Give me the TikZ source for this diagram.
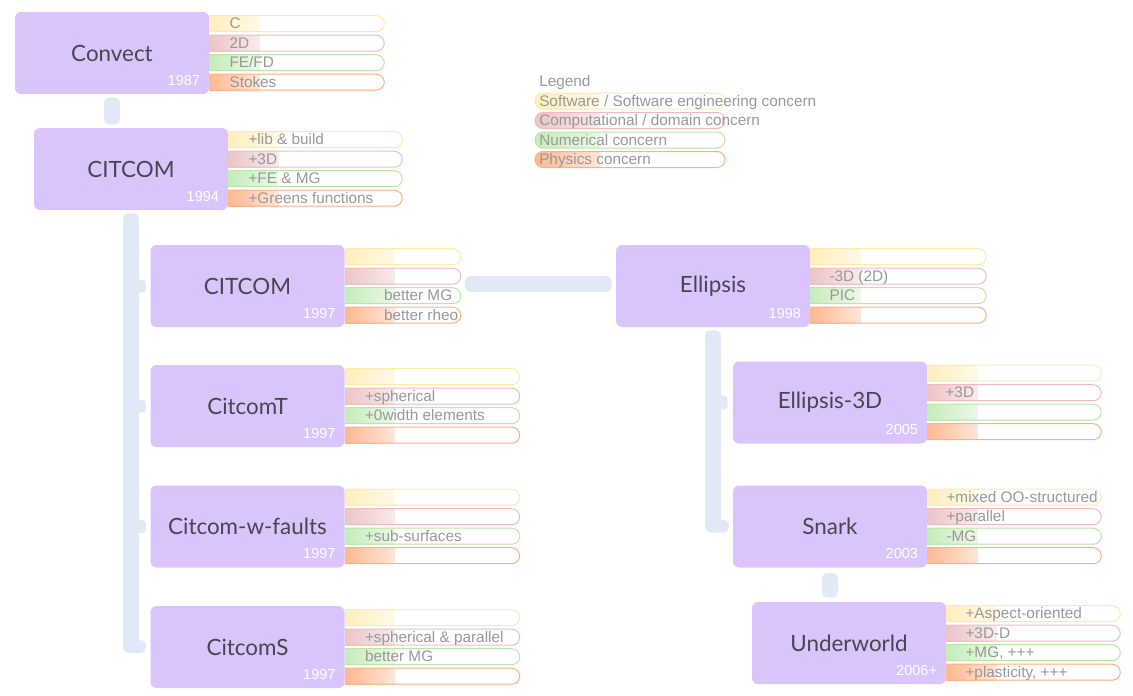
\documentclass[tikz,border=0pt]{standalone}
\usepackage{fontspec}
\setmainfont{Liberation Sans}
\newfontfamily\titlefont{Lato}
\usetikzlibrary{positioning}
\usetikzlibrary{calc}
\definecolor{boxlav}{RGB}{217,196,252}
\definecolor{linkblue}{RGB}{226,233,246}
\definecolor{txtgray}{RGB}{152,152,152}
\definecolor{titlegray}{RGB}{76,68,80}
\definecolor{swyel}{RGB}{255,238,188}
\definecolor{cdred}{RGB}{236,196,198}
\definecolor{nugrn}{RGB}{198,236,186}
\definecolor{phorg}{RGB}{255,184,144}
\definecolor{swyelb}{RGB}{255,232,172}
\definecolor{cdredb}{RGB}{240,186,190}
\definecolor{nugrnb}{RGB}{188,228,170}
\definecolor{phorgb}{RGB}{255,174,128}
\tikzset{
  lineage/.style={fill=boxlav, rounded corners=4.5pt, minimum width=145.5pt,
    minimum height=61.5pt, inner sep=0pt, text=titlegray,
    font=\titlefont\fontsize{16.8}{20}\selectfont},
  yearlbl/.style={anchor=base east, inner sep=0pt, text=white,
    font=\fontsize{10.9}{12}\selectfont},
  concern/.style={anchor=base west, inner sep=0pt, text=txtgray,
    font=\fontsize{11.5}{13}\selectfont},
  link/.style={fill=linkblue, rounded corners=4pt}
}
% four concern bars to the right of a box: box, length, text start, texts
\newcommand{\concerns}[7]{%
  \begin{scope}[shift={(#1.north east)}]
    \foreach \r/\fc/\bc/\tag/\txt in {0/swyel/swyelb/sw/{#4},1/cdred/cdredb/cd/{#5},
        2/nugrn/nugrnb/nu/{#6},3/phorg/phorgb/ph/{#7}}{
      \pgfmathsetmacro{\yt}{4+19.5*\r}
      \shade[left color=\fc, right color=\fc!35] (0,\yt) rectangle (50,\yt+16);
      \draw[\bc, line width=0.75pt] (0,\yt) -- (#2-8,\yt) arc(-90:90:8) -- (0,\yt+16);
      \node[concern] (#1-\tag) at (#3,\yt+12.8) {\txt};
    }
  \end{scope}}

\begin{document}
\begin{tikzpicture}[x=0.75pt, y=-0.75pt]
  \useasboundingbox (0,0) rectangle (1133,696);

  % boxes
  \node[lineage] (convect) at (112,53) {Convect};
  \node[lineage] (citcom) at (131,169) {CITCOM};
  \node[lineage] (cit97) at (247.5,286) {CITCOM};
  \node[lineage] (citcomT) at (247.5,406) {CitcomT};
  \node[lineage] (citfault) at (247.5,526.5) {Citcom-w-faults};
  \node[lineage] (citcomS) at (247.5,647) {CitcomS};
  \node[lineage] (ellipsis) at (713,286) {Ellipsis};
  \node[lineage] (ell3d) at (830,402.5) {Ellipsis-3D};
  \node[lineage] (snark) at (830,526.5) {Snark};
  \node[lineage] (underworld) at (849,643) {Underworld};

  % years
  \foreach \b/\yr in {convect/1987, citcom/1994, cit97/1997, citcomT/1997,
      citfault/1997, citcomS/1997, ellipsis/1998, ell3d/2005, snark/2003,
      underworld/2006+}
    \node[yearlbl] (\b-yr) at ($(\b.south east)+(-9,-9)$) {\yr};

  % concerns
  \concerns{convect}{175}{20}{C}{2D}{FE/FD}{Stokes}
  \concerns{citcom}{174}{20}{+lib \& build}{+3D}{+FE \& MG}{+Greens functions}
  \concerns{cit97}{116}{39}{}{}{better MG}{better rheo}
  \concerns{citcomT}{175}{20}{}{+spherical}{+0width elements}{}
  \concerns{citfault}{175}{20}{}{}{+sub-surfaces}{}
  \concerns{citcomS}{175}{20}{}{+spherical \& parallel}{better MG}{}
  \concerns{ellipsis}{176}{19}{}{-3D (2D)}{PIC}{}
  \concerns{ell3d}{174}{18}{}{+3D}{}{}
  \concerns{snark}{174}{19}{+mixed OO-structured}{+parallel}{-MG}{}
  \concerns{underworld}{174}{19}{+Aspect-oriented}{+3D-D}{+MG, +++}{+plasticity, +++}

  % links
  \fill[link] ($(convect.south)+(-8,3)$) rectangle ($(convect.south |- citcom.north)+(8,-3)$);
  \fill[link] ($(citcom.south)+(-8,3)$) rectangle ($(citcom.south |- citcomS.west)+(8,6)$);
  \foreach \c in {cit97, citcomT, citfault}
    \fill[link, rounded corners=3pt] ($(citcom.south |- \c.west)+(0,-6.5)$) rectangle ($(\c.west)+(-4,6.5)$);
  \fill[link] ($(citcom.south |- citcomS.west)+(0,-7)$) rectangle ($(citcomS.west)+(-4,6)$);
  \fill[link] ($(cit97.east)+(120,-10)$) rectangle ($(ellipsis.west)+(-4,6)$);
  \fill[link] ($(ellipsis.south)+(-8,3)$) rectangle ($(ellipsis.south |- snark.west)+(8,6)$);
  \fill[link, rounded corners=3pt] ($(ellipsis.south |- ell3d.west)+(0,-7)$) rectangle ($(ell3d.west)+(-5,7)$);
  \fill[link] ($(ellipsis.south |- snark.west)+(0,-7)$) rectangle ($(snark.west)+(-4,6)$);
  \fill[link] ($(snark.south)+(-8,5)$) rectangle ($(snark.south |- underworld.north)+(8,-4)$);

  % legend
  \node[concern] (legend) at (539,86.5) {Legend};
  \foreach \r/\fc/\bc/\tag/\txt in {0/swyel/swyelb/sw/{Software / Software engineering concern},
      1/cdred/cdredb/cd/{Computational / domain concern},
      2/nugrn/nugrnb/nu/{Numerical concern}, 3/phorg/phorgb/ph/{Physics concern}}{
    \pgfmathsetmacro{\yt}{93+19.5*\r}
    \begin{scope}
      \clip[rounded corners=6pt] (535,\yt) rectangle (725,\yt+16);
      \shade[left color=\fc, right color=\fc!35] (535,\yt) rectangle (600,\yt+16);
    \end{scope}
    \draw[\bc, line width=0.75pt, rounded corners=6pt] (535,\yt) rectangle (725,\yt+16);
    \node[concern] (key-\tag) at (539,\yt+13.3) {\txt};
  }
\end{tikzpicture}
\end{document}
